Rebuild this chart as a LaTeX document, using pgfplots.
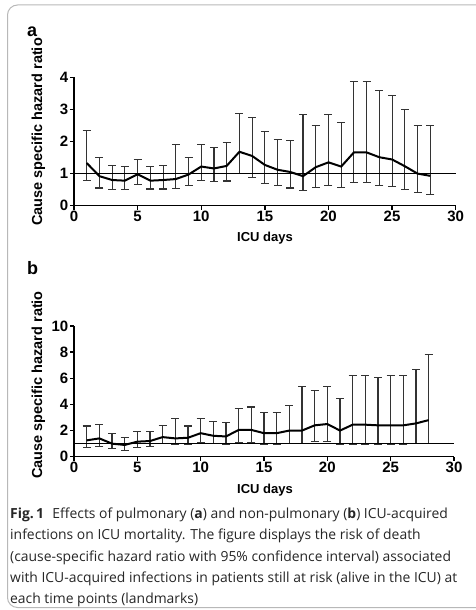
\documentclass[border=0pt]{standalone}
\usepackage{fontspec}
\setmainfont{Liberation Sans}
\newfontfamily\capfont{Open Sans}
\usepackage{pgfplots}
\pgfplotsset{compat=1.18}
\usepackage{pgfplotstable}

\pgfplotstableread{
x y lo hi
1 1.33 0.78 2.33
2 0.92 0.55 1.51
3 0.80 0.50 1.25
4 0.78 0.50 1.21
5 0.98 0.65 1.45
6 0.78 0.52 1.21
7 0.80 0.52 1.25
8 0.83 0.53 1.91
9 0.97 0.62 1.50
10 1.22 0.78 1.91
11 1.16 0.74 1.82
12 1.24 0.77 1.98
13 1.68 1.00 2.87
14 1.55 0.88 2.75
15 1.27 0.70 2.30
16 1.12 0.62 2.07
17 1.05 0.55 2.02
18 0.92 0.46 2.83
19 1.20 0.58 2.51
20 1.35 0.64 2.83
21 1.22 0.57 2.58
22 1.66 0.71 3.87
23 1.66 0.71 3.87
24 1.51 0.64 3.59
25 1.44 0.60 3.44
26 1.23 0.50 3.01
27 1.00 0.40 2.50
28 0.93 0.34 2.50
}\dataA

\pgfplotstableread{
x y lo hi
1 1.25 0.69 2.35
2 1.40 0.80 2.45
3 1.00 0.60 1.75
4 0.90 0.50 1.50
5 1.15 0.72 1.95
6 1.20 0.75 1.95
7 1.50 1.00 2.40
8 1.40 0.90 2.95
9 1.45 0.92 2.35
10 1.80 1.10 2.95
11 1.60 1.00 2.70
12 1.55 0.92 2.65
13 2.05 1.12 3.70
14 2.05 1.10 3.80
15 1.80 0.95 3.40
16 1.80 0.95 3.40
17 2.00 1.00 3.90
18 2.00 1.00 5.40
19 2.40 1.15 5.05
20 2.50 1.15 5.40
21 2.00 0.90 4.45
22 2.45 0.97 6.20
23 2.45 0.97 6.20
24 2.40 0.95 6.05
25 2.40 0.95 6.20
26 2.40 0.95 6.20
27 2.55 1.00 6.70
28 2.80 1.00 7.80
}\dataB

\pgfplotsset{
  hr/.style={
    scale only axis, xmin=0, xmax=30, xtick={0,5,...,30},
    axis lines=left, axis line style={-, line width=1.4pt},
    tick align=outside, major tick length=4pt,
    tick style={line width=1.4pt, black},
    minor tick num=0,
    every tick label/.append style={font=\fontsize{15}{15}\selectfont\bfseries, inner sep=1.5pt},
    /pgf/number format/assume math mode=true,
    clip=false,
  },
  ebars/.style={draw=none, mark=none, forget plot,
    error bars/.cd, y dir=both, y explicit, error mark=|,
    error bar style={draw=black!80, line width=1.1pt},
    error mark options={draw=black!80, line width=1.1pt, mark size=4pt}},
}

\begin{document}
\begin{tikzpicture}
\useasboundingbox (0,0) rectangle (475pt,-610pt);
\draw[black!28, line width=1pt, rounded corners=10pt] (7.5pt,-5pt) rectangle (500pt,-607.5pt);

\begin{axis}[hr, at={(74pt,-205.7pt)}, anchor=origin, width=381.7pt, height=128.4pt,
  ymin=0, ymax=4, ytick={0,1,2,3,4}]
  \addplot[ebars] table[x=x, y=y, y error plus expr=\thisrow{hi}-\thisrow{y}, y error minus expr=\thisrow{y}-\thisrow{lo}] {\dataA};
  \addplot[black, line width=1pt, no marks] coordinates {(0,1) (30,1)};
  \addplot[black, line width=2pt, no marks] table[x=x, y=y] {\dataA};
\end{axis}

\begin{axis}[hr, at={(74pt,-456.7pt)}, anchor=origin, width=380pt, height=130.7pt,
  ymin=0, ymax=10, ytick={0,2,4,6,8,10}]
  \addplot[ebars] table[x=x, y=y, y error plus expr=\thisrow{hi}-\thisrow{y}, y error minus expr=\thisrow{y}-\thisrow{lo}] {\dataB};
  \addplot[black, line width=1pt, no marks] coordinates {(0,1) (30,1)};
  \addplot[black, line width=2pt, no marks] table[x=x, y=y] {\dataB};
\end{axis}

\node[anchor=base west, font=\fontsize{18}{18}\selectfont\bfseries, inner sep=0] at (27pt,-37pt) {a};
\node[anchor=base west, font=\fontsize{18}{18}\selectfont\bfseries, inner sep=0] at (27pt,-274pt) {b};

\node[rotate=90, font=\fontsize{14.5}{14.5}\selectfont\bfseries, inner sep=0] at (38.5pt,-132pt) {Cause specific hazard ratio};
\node[rotate=90, font=\fontsize{14.5}{14.5}\selectfont\bfseries, inner sep=0] at (38.5pt,-385pt) {Cause specific hazard ratio};
\node[font=\fontsize{13}{13}\selectfont\bfseries, inner sep=0] at (265pt,-238pt) {ICU days};
\node[font=\fontsize{13}{13}\selectfont\bfseries, inner sep=0] at (265pt,-490pt) {ICU days};

\begin{scope}[every node/.style={anchor=base west, inner sep=0, text=black!85, font=\capfont\fontsize{13.9}{13.9}\selectfont}]
\node at (10pt,-518pt) {{\bfseries Fig.\,1}\hspace{0.6em}Effects of pulmonary ({\bfseries a}) and non-pulmonary ({\bfseries b}) ICU-acquired};
\node at (10pt,-539.5pt) {infections on ICU mortality. The figure displays the risk of death};
\node at (10pt,-561pt) {(cause-specific hazard ratio with 95\% confidence interval) associated};
\node at (10pt,-582pt) {with ICU-acquired infections in patients still at risk (alive in the ICU) at};
\node at (10pt,-603pt) {each time points (landmarks)};
\end{scope}
\end{tikzpicture}
\end{document}
